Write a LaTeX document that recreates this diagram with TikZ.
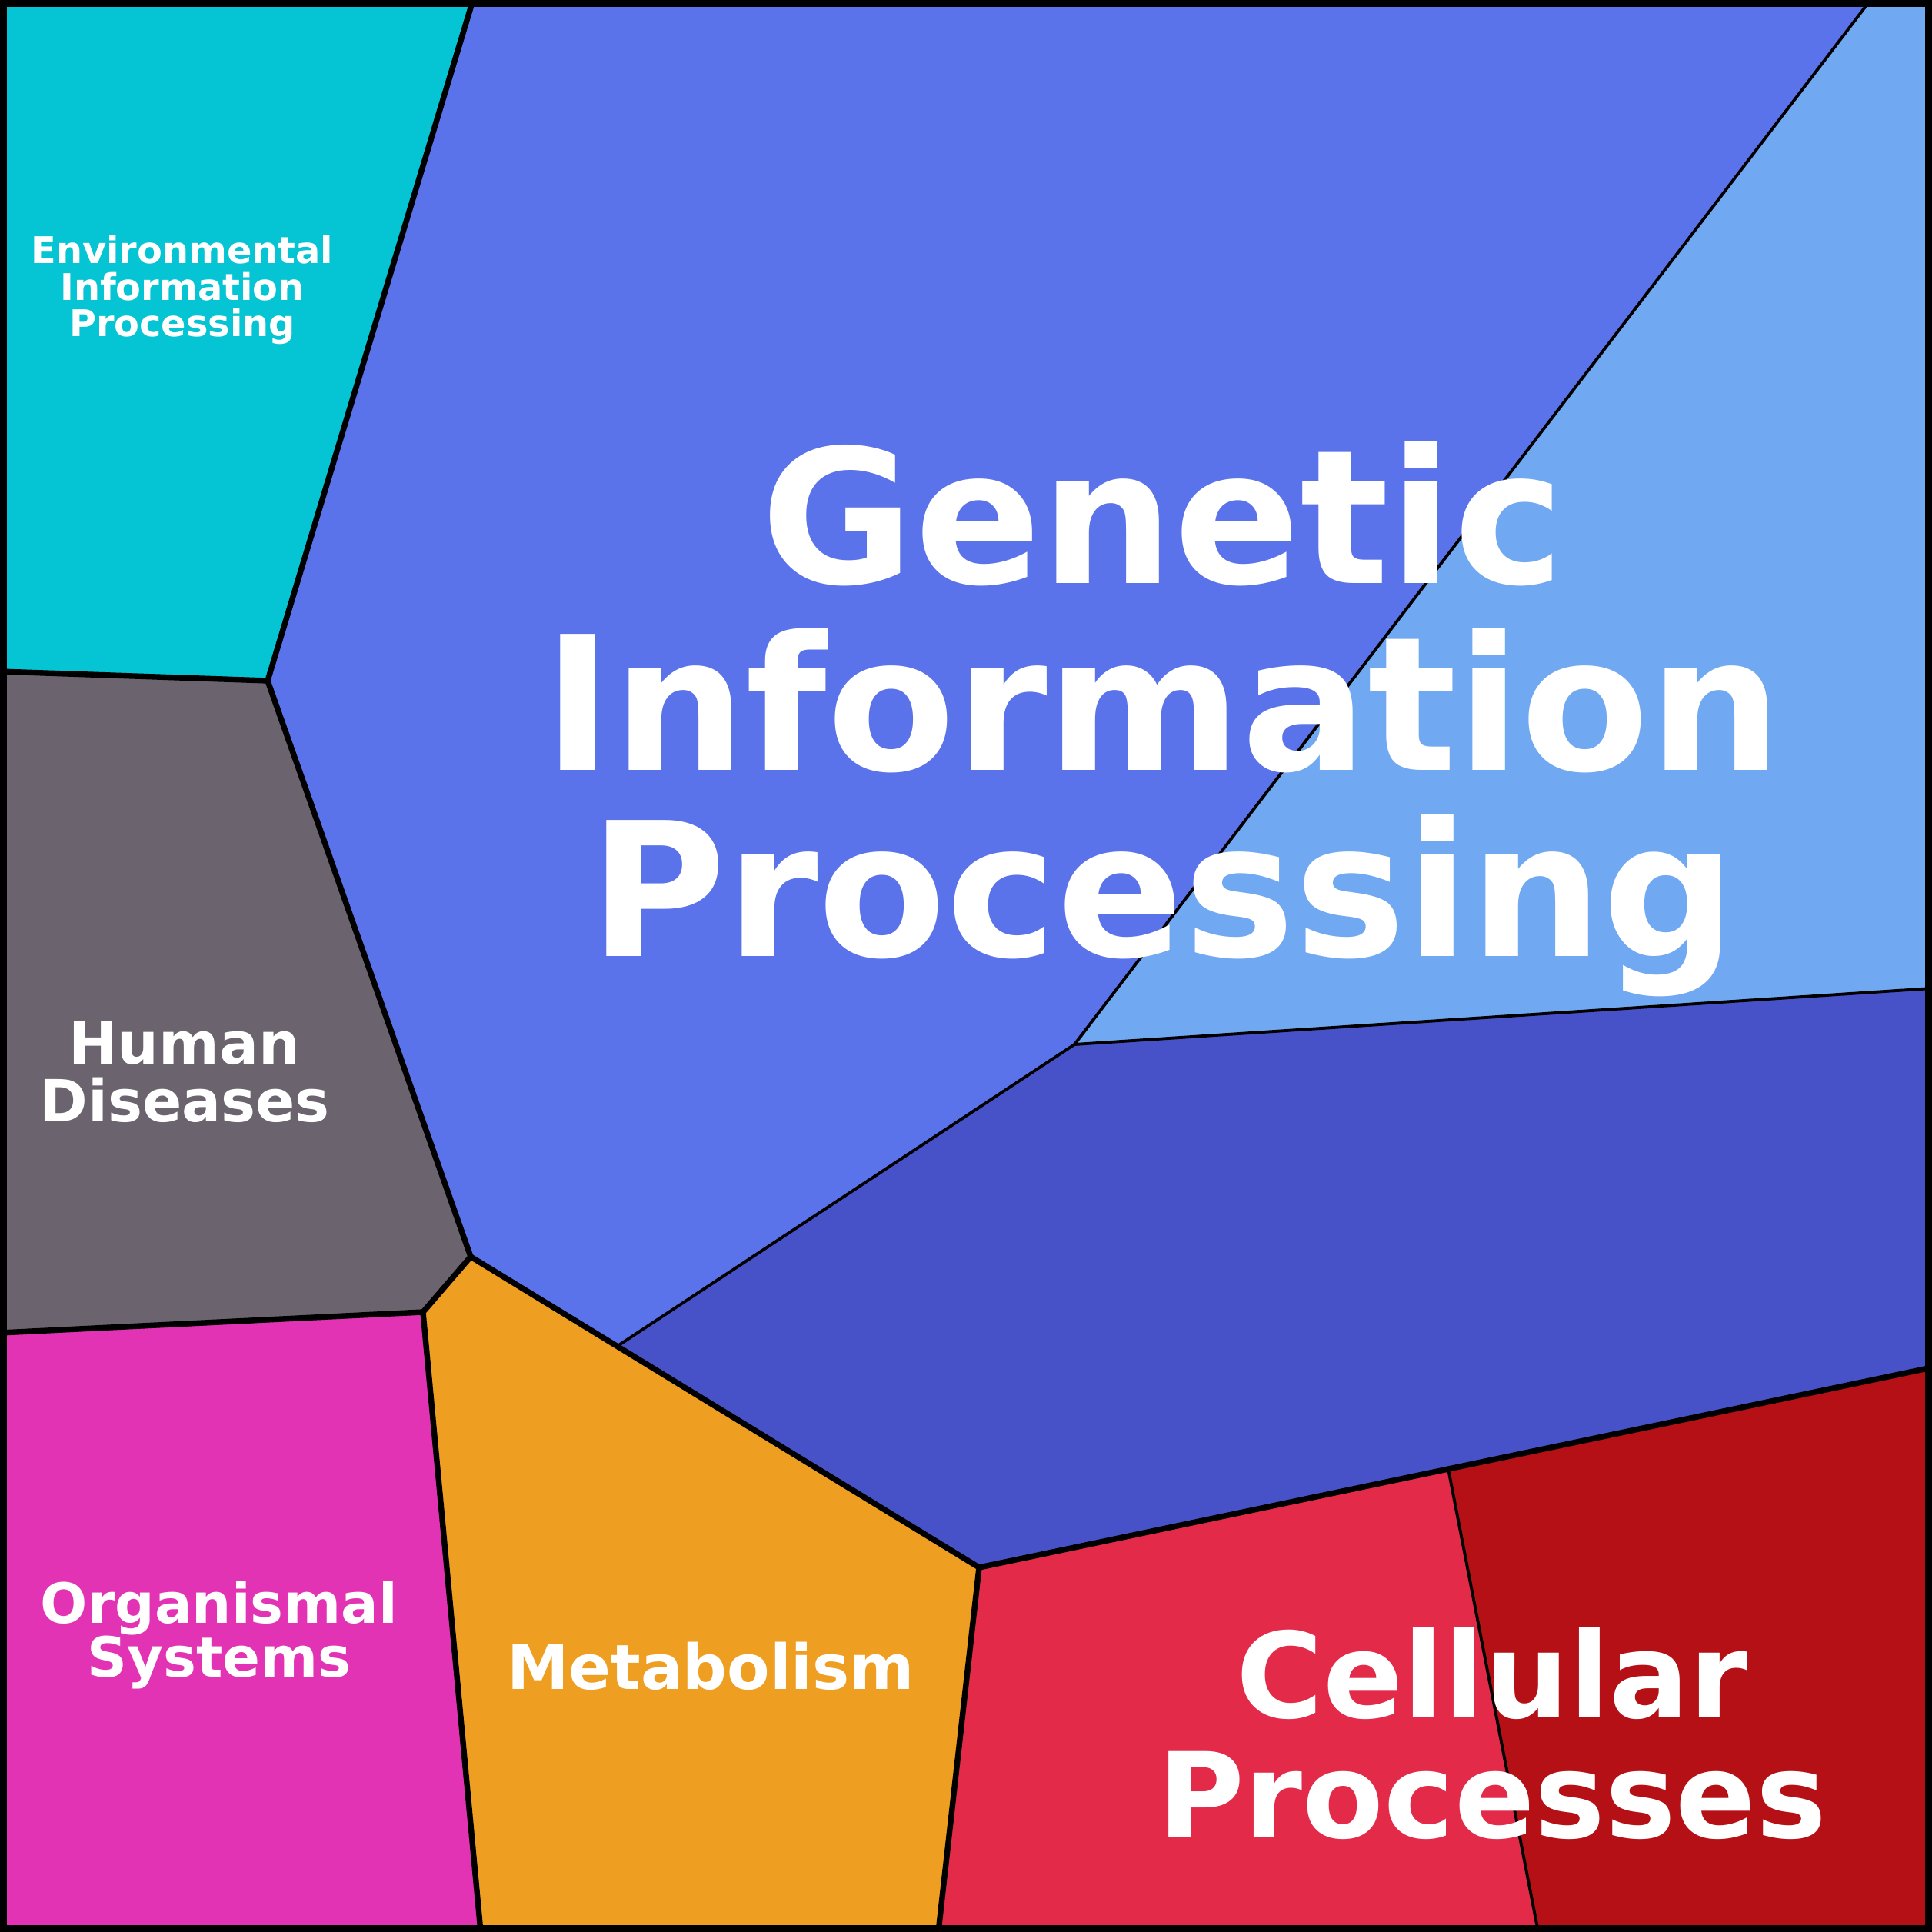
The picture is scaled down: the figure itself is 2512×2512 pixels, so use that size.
\documentclass[tikz,border=0pt]{standalone}
\usepackage{fontspec}
\setmainfont{DejaVu Sans}
\definecolor{env}{HTML}{05C4D3}
\definecolor{gen}{HTML}{5B73EA}
\definecolor{genl}{HTML}{70A8F2}
\definecolor{gend}{HTML}{4852C8}
\definecolor{hum}{HTML}{6B646E}
\definecolor{org}{HTML}{E233B4}
\definecolor{met}{HTML}{EE9E20}
\definecolor{cel}{HTML}{E42A49}
\definecolor{celd}{HTML}{B41015}
\begin{document}
\begin{tikzpicture}[x=0.01cm,y=-0.01cm,
  thin cell/.style={draw=black,line width=1.1pt,line join=round},
  thick cell/.style={draw=black,line width=2.1pt,line join=round},
  lab/.style={text=white,font=\bfseries,align=center,inner sep=0pt}]
\useasboundingbox (0,0) rectangle (2512,2512);
\fill[env] (0,0)--(615,0)--(348,885)--(0,873)--cycle;
\fill[gen] (615,0)--(2432,0)--(1397,1358)--(803,1750)--(612,1634)--(348,885)--cycle;
\fill[genl] (2432,0)--(2512,0)--(2512,1285)--(1397,1358)--cycle;
\fill[gend] (1397,1358)--(2512,1285)--(2512,1778)--(1883,1910)--(1273,2038)--(803,1750)--cycle;
\fill[hum] (0,873)--(348,885)--(612,1634)--(550,1706)--(0,1733)--cycle;
\fill[org] (0,1733)--(550,1706)--(625,2512)--(0,2512)--cycle;
\fill[met] (550,1706)--(612,1634)--(803,1750)--(1273,2038)--(1220,2512)--(625,2512)--cycle;
\fill[cel] (1273,2038)--(1883,1910)--(2000,2512)--(1220,2512)--cycle;
\fill[celd] (1883,1910)--(2512,1778)--(2512,2512)--(2000,2512)--cycle;
% thin internal lines
\draw[thin cell] (2432,0)--(1397,1358)--(2512,1285);
\draw[thin cell] (1397,1358)--(803,1750);
\draw[thin cell] (1883,1910)--(2000,2512);
% thick boundaries
\draw[thick cell] (615,0)--(348,885)--(0,873);
\draw[thick cell] (348,885)--(612,1634)--(550,1706)--(0,1733);
\draw[thick cell] (550,1706)--(625,2512);
\draw[thick cell] (612,1634)--(1273,2038)--(1220,2512);
\draw[thick cell] (1273,2038)--(2512,1778);
\draw[draw=black,line width=2.6pt] (4,4) rectangle (2508,2508);
% labels
\node[lab,font=\bfseries\fontsize{13.6}{13.4}\selectfont] (envl) at (237,377) {Environmental\\Information\\Processing};
\node[lab,font=\bfseries\fontsize{69}{69}\selectfont] (genlab) at (1512,935) {Genetic\\Information\\Processing};
\node[lab,font=\bfseries\fontsize{21.5}{21.3}\selectfont] (huml) at (240,1394) {Human\\Diseases};
\node[lab,font=\bfseries\fontsize{20.5}{20}\selectfont] (orgl) at (285,2126) {Organismal\\Systems};
\node[lab,font=\bfseries\fontsize{23}{23}\selectfont] (metl) at (924,2166) {Metabolism};
\node[lab,font=\bfseries\fontsize{43.8}{44.4}\selectfont] (cell) at (1940,2254) {Cellular\\Processes};
\end{tikzpicture}
\end{document}
